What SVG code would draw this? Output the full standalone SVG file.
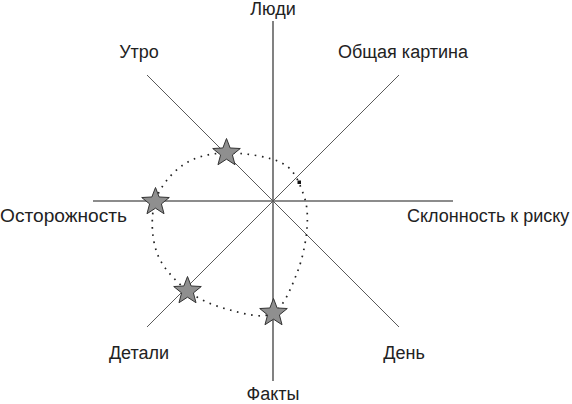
<svg xmlns="http://www.w3.org/2000/svg" width="572" height="404" viewBox="0 0 572 404">
  <style>
    .axis { stroke: #1a1a1a; stroke-width: 1.1; fill: none; }
    .diag { stroke: #5a5a5a; stroke-width: 1; fill: none; }
    .dots { stroke: #222; stroke-width: 1.7; fill: none; stroke-dasharray: 1.6 5.6; }
    .star { fill: #8f8f8f; stroke: #333; stroke-width: 1; stroke-linejoin: miter; }
    .lbl { font-family: "Liberation Sans", Arial, sans-serif; font-size: 18px; fill: #222; }
  </style>
  <defs>
    <polygon id="star" class="star" points="0,-14.5 3.64,-5.02 13.79,-4.48 5.9,1.92 8.52,11.73 0,6.2 -8.52,11.73 -5.9,1.92 -13.79,-4.48 -3.64,-5.02"/>
  </defs>
  <rect width="572" height="404" fill="#ffffff"/>
  <g id="connectors">
    <line class="axis" x1="273" y1="21" x2="273" y2="381"/>
    <line class="axis" x1="93" y1="201" x2="453" y2="201"/>
    <line class="diag" x1="147" y1="75" x2="399" y2="327"/>
    <line class="diag" x1="399" y1="75" x2="147" y2="327"/>
    <path class="dots" d="M226,153 C242.5,152.67 269.17,156.33 282,163 C294.83,169.67 298.83,182.17 303,193 C307.17,203.83 308,214.67 307,228 C306,241.33 302.67,258.83 297,273 C291.33,287.17 284.17,306.83 273,313 C261.83,319.17 244.17,313.67 230,310 C215.830,306.33 200.17,300.5 188,291 C175.83,281.5 162.5,267.83 157,253 C151.5,238.17 150.67,216.67 155,202 C159.33,187.33 171.17,173.17 183,165 C194.83,156.83 209.5,153.33 226,153 Z"/>
    <rect x="297.5" y="180.5" width="3.5" height="3.5" fill="#111"/>
  </g>
  <g id="star1"><use href="#star" x="226.5" y="153"/></g>
  <g id="star2"><use href="#star" x="155.5" y="202"/></g>
  <g id="star3"><use href="#star" x="187.5" y="291"/></g>
  <g id="star4"><use href="#star" x="273.5" y="313"/></g>
  <g id="label-top"><text class="lbl" x="273" y="15" text-anchor="middle">Люди</text></g>
  <g id="label-nw"><text class="lbl" x="139" y="58" text-anchor="middle">Утро</text></g>
  <g id="label-ne"><text class="lbl" x="403" y="58" text-anchor="middle">Общая картина</text></g>
  <g id="label-w"><text class="lbl" x="0" y="222" textLength="127" lengthAdjust="spacingAndGlyphs">Осторожность</text></g>
  <g id="label-e"><text class="lbl" x="407" y="222">Склонность к риску</text></g>
  <g id="label-sw"><text class="lbl" x="139" y="359" text-anchor="middle">Детали</text></g>
  <g id="label-se"><text class="lbl" x="404" y="359" text-anchor="middle">День</text></g>
  <g id="label-bottom"><text class="lbl" x="273" y="400" text-anchor="middle">Факты</text></g>
</svg>
